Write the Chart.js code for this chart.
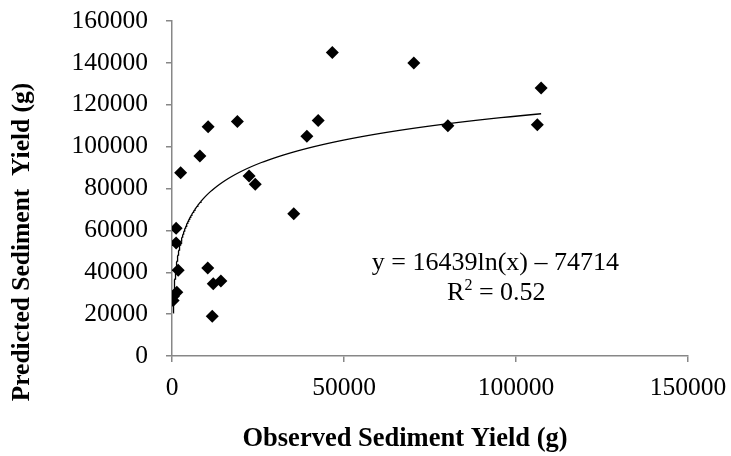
<!DOCTYPE html>
<html>
<head>
<meta charset="utf-8">
<script src="https://cdn.jsdelivr.net/npm/chart.js@4/dist/chart.umd.min.js"></script>
<style>
html,body{margin:0;padding:0;background:#fff;}
#wrap{width:731px;height:456px;}
</style>
</head>
<body>
<div id="wrap"><canvas id="c" width="731" height="456"></canvas></div>
<script>
// Observed vs predicted sediment yield (g)
const observed = [46600, 19000, 10500, 42500, 39200, 8100, 2500, 22400, 24200, 35400,
                  1200, 1200, 1800, 10400, 12000, 14200, 1400, 400, 330, 11700,
                  70300, 107300, 80200, 106200];
const predicted = [145000, 112000, 109500, 112500, 105000, 95500, 87500, 86000, 82000, 68000,
                   61000, 54000, 41000, 42000, 34500, 35800, 30500, 28500, 26500, 19000,
                   140000, 128000, 110000, 110500];
// Logarithmic trendline shown on the chart: y = 16439 ln(x) - 74714
const trendSlope = 16439;
const trendIntercept = -74714;
const equationLabel = "y = 16439ln(x) \u2013 74714";
const r2Text = " = 0.52";
const xTicks = [0, 50000, 100000, 150000];
const yTicks = [0, 20000, 40000, 60000, 80000, 100000, 120000, 140000, 160000];
const xTitle = "Observed Sediment Yield (g)";
const yTitle = "Predicted Sediment  Yield (g)";

const points = observed.map((x, i) => ({x: x, y: predicted[i]}));
const xMin = Math.min(...observed), xMax = Math.max(...observed);
const trend = [];
const N = 200;
for (let i = 0; i <= N; i++) {
  const x = Math.exp(Math.log(xMin) + (Math.log(xMax) - Math.log(xMin)) * i / N);
  trend.push({x: x, y: trendSlope * Math.log(x) + trendIntercept});
}

const serif = "'Liberation Serif', 'Times New Roman', serif";
const axisGray = '#878787';

const textPlugin = {
  id: 'texts',
  afterDraw(chart) {
    const ctx = chart.ctx;
    const xs = chart.scales.x, ys = chart.scales.y;
    ctx.save();
    ctx.fillStyle = '#000';
    ctx.textBaseline = 'middle';
    // equation
    ctx.font = '26px ' + serif;
    ctx.textAlign = 'center';
    const cx = xs.getPixelForValue(94000);
    ctx.fillText(equationLabel, cx, ys.getPixelForValue(44500));
    const y2 = ys.getPixelForValue(30000);
    const wR = ctx.measureText("R").width;
    const wRest = ctx.measureText(r2Text).width;
    ctx.font = '16px ' + serif;
    const w2 = ctx.measureText("2").width;
    const x0 = cx - (wR + w2 + wRest) / 2 + 1;
    ctx.textAlign = 'left';
    ctx.font = '26px ' + serif;
    ctx.fillText("R", x0, y2);
    ctx.font = '16px ' + serif;
    ctx.fillText("2", x0 + wR, y2 - 7);
    ctx.font = '26px ' + serif;
    ctx.fillText(r2Text, x0 + wR + w2, y2);
    // axis titles
    ctx.textAlign = 'center';
    ctx.font = 'bold 26.5px ' + serif;
    ctx.fillText(xTitle, 405, 439);
    ctx.translate(22, 242);
    ctx.rotate(-Math.PI / 2);
    ctx.font = 'bold 25.5px ' + serif;
    ctx.fillText(yTitle, 0, 0);
    ctx.restore();
  }
};

new Chart(document.getElementById('c'), {
  type: 'scatter',
  data: {
    datasets: [
      {
        label: 'Trend',
        type: 'line',
        data: trend,
        borderColor: '#000',
        borderWidth: 1.3,
        pointRadius: 0,
        fill: false,
        tension: 0,
        order: 2
      },
      {
        label: 'Observed vs Predicted',
        data: points,
        pointStyle: 'rectRot',
        pointRadius: 6.5,
        pointHoverRadius: 6.5,
        backgroundColor: '#000',
        borderColor: '#000',
        borderWidth: 0,
        order: 1
      }
    ]
  },
  options: {
    responsive: false,
    animation: false,
    devicePixelRatio: 1,
    layout: {padding: {left: 0, right: 43, top: 21, bottom: 0}},
    plugins: {legend: {display: false}, tooltip: {enabled: false}},
    scales: {
      x: {
        type: 'linear',
        min: 0, max: 150000,
        afterBuildTicks(s) { s.ticks = xTicks.map(v => ({value: v})); },
        afterFit(s) { s.height = 100; s.paddingLeft = 0; s.paddingRight = 0; },
        grid: {drawOnChartArea: false, drawTicks: true, tickLength: 6, color: axisGray, lineWidth: 1.5},
        border: {color: axisGray, width: 1.5},
        ticks: {color: '#000', font: {family: serif, size: 25.5}, padding: 11, maxRotation: 0,
                callback: v => String(v)},
        title: {display: false}
      },
      y: {
        type: 'linear',
        min: 0, max: 160000,
        afterBuildTicks(s) { s.ticks = yTicks.map(v => ({value: v})); },
        afterFit(s) { s.width = 172; s.paddingTop = 0; s.paddingBottom = 0; },
        grid: {drawOnChartArea: false, drawTicks: true, tickLength: 6, color: axisGray, lineWidth: 1.5},
        border: {color: axisGray, width: 1.5},
        ticks: {color: '#000', font: {family: serif, size: 25.5}, padding: 18,
                callback: v => String(v)},
        title: {display: false}
      }
    }
  },
  plugins: [textPlugin]
});
</script>
</body>
</html>
